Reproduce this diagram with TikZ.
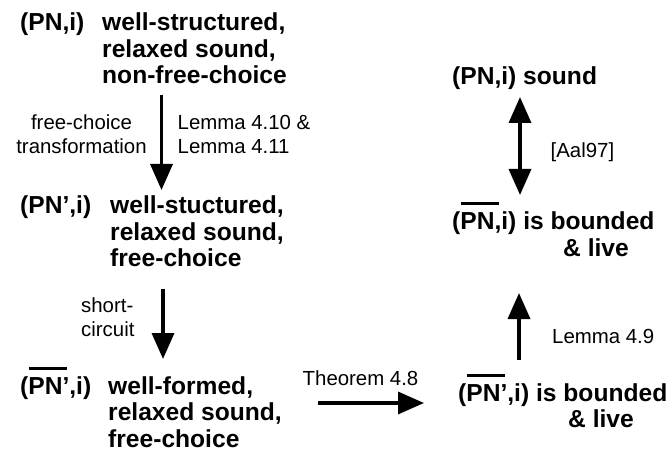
\documentclass[tikz,border=0pt]{standalone}
\usepackage{fontspec}
\setmainfont{Liberation Sans}
\usetikzlibrary{arrows.meta}

% bar over a group of letters, e.g. the short-circuited net
\newsavebox\ovbox
\newcommand\ovbar[1]{\sbox\ovbox{#1}\rlap{\kern0.5pt\rule[24.5pt]{\dimexpr\wd\ovbox+4pt\relax}{3pt}}\usebox\ovbox}

\tikzset{
  statement/.style={font=\fontsize{24.6}{26.5}\selectfont\bfseries, inner sep=0pt, anchor=base west},
  remark/.style={font=\fontsize{20.4}{24}\selectfont, inner sep=0pt},
  implies/.style={line width=3.5pt, -{Triangle[length=26pt,width=22pt]}},
  equiv/.style={line width=3.5pt, {Triangle[length=26pt,width=22pt]}-{Triangle[length=26pt,width=22pt]}},
}

\begin{document}
\begin{tikzpicture}[x=1pt,y=1pt]
\useasboundingbox (0,0) rectangle (672,461);

% left column: the three nets
\node[statement] (tl) at (20,430) {\begin{tabular}[t]{@{}l@{}l@{}}\makebox[82pt][l]{(PN,i)} & well-structured,\\ & relaxed sound,\\ & non-free-choice\end{tabular}};
\node[statement] (ml) at (20,247) {\begin{tabular}[t]{@{}l@{}l@{}}\makebox[90pt][l]{(PN’,i)} & well-stuctured,\\ & relaxed sound,\\ & free-choice\end{tabular}};
\node[statement] (bl) at (20,67) {\begin{tabular}[t]{@{}l@{}l@{}}\makebox[88pt][l]{(\ovbar{PN}’,i)} & well-formed,\\ & relaxed sound,\\ & free-choice\end{tabular}};

% right column: soundness and boundedness/liveness
\node[statement] (tr) at (452,376) {(PN,i) sound};
\node[statement] (mr) at (452,231) {\begin{tabular}[t]{@{}l@{}}(\ovbar{PN},i) is bounded\\\hspace*{111pt}\& live\end{tabular}};
\node[statement] (br) at (458,60) {\begin{tabular}[t]{@{}l@{}}(\ovbar{PN}’,i) is bounded\\\hspace*{110pt}\& live\end{tabular}};

% arrow end points
\coordinate (a1s) at (161.5,366); \coordinate (a1e) at (161.5,271);
\coordinate (a2s) at (163,172);   \coordinate (a2e) at (163,102);
\coordinate (a3s) at (318,58);    \coordinate (a3e) at (424,58);
\coordinate (a4s) at (519,101);   \coordinate (a4e) at (519,168);
\coordinate (a5s) at (520,364);   \coordinate (a5e) at (520,266);

\draw[implies] (a1s) -- (a1e);
\draw[implies] (a2s) -- (a2e);
\draw[implies] (a3s) -- (a3e);
\draw[implies] (a4s) -- (a4e);
\draw[equiv]   (a5s) -- (a5e);

% arrow labels
\node[remark, anchor=base] (l1) at (81.5,331) {\begin{tabular}[t]{@{}c@{}}free-choice\\transformation\end{tabular}};
\node[remark, anchor=base west] (l2) at (177.5,331) {\begin{tabular}[t]{@{}l@{}}Lemma 4.10 \&\\Lemma 4.11\end{tabular}};
\node[remark, anchor=base west, font=\fontsize{20.4}{24.5}\selectfont] (l3) at (81,149) {\begin{tabular}[t]{@{}l@{}}short-\\circuit\end{tabular}};
\node[remark, anchor=base west] (l4) at (302.5,76) {Theorem 4.8};
\node[remark, anchor=base west] (l5) at (552,118) {Lemma 4.9};
\node[remark, anchor=base west] (l6) at (550.5,303) {[Aal97]};
\end{tikzpicture}
\end{document}
